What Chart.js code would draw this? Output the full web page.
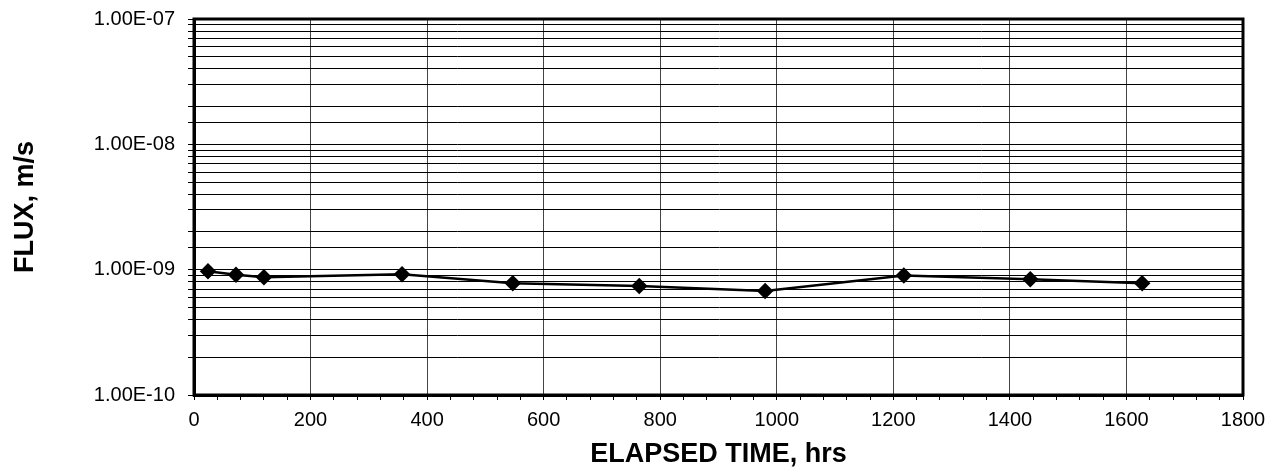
<!DOCTYPE html>
<html>
<head>
<meta charset="utf-8">
<script src="https://cdn.jsdelivr.net/npm/chart.js@4/dist/chart.umd.min.js"></script>
<style>
  html, body { margin: 0; padding: 0; background: #fff; }
  #wrap { width: 1271px; height: 476px; position: relative; }
</style>
</head>
<body>
<div id="wrap"><canvas id="fluxChart"></canvas></div>
<script>
// elapsed time (hrs) and measured flux (m/s)
const elapsedHours = [24, 72, 120, 357, 547, 764, 980, 1218, 1435, 1627];
const fluxValues = [9.7e-10, 9.1e-10, 8.7e-10, 9.2e-10, 7.8e-10, 7.4e-10, 6.75e-10, 9.0e-10, 8.4e-10, 7.8e-10];

const xMin = 0, xMax = 1800, xMajor = 200, xMinor = 40;
const yMin = 1e-10, yMax = 1e-7;

Chart.defaults.font.family = 'Arial, "Liberation Sans", Helvetica, sans-serif';
Chart.defaults.color = '#000';

// format like Excel scientific: 1.00E-09
function sci(v) {
  const [m, e] = v.toExponential(2).split('e');
  const n = parseInt(e, 10);
  const sign = n < 0 ? '-' : '+';
  return m + 'E' + sign + String(Math.abs(n)).padStart(2, '0');
}

function isDecade(v) {
  const l = Math.log10(v);
  return Math.abs(l - Math.round(l)) < 1e-6;
}

// frame round the plot area
const frame = {
  id: 'frame',
  afterDraw(chart) {
    const { ctx, chartArea: a } = chart;
    ctx.save();
    ctx.strokeStyle = '#000';
    ctx.lineWidth = 3;
    ctx.strokeRect(a.left, a.top, a.right - a.left, a.bottom - a.top);
    ctx.restore();
  }
};

const points = elapsedHours.map((h, i) => ({ x: h, y: fluxValues[i] }));

new Chart(document.getElementById('fluxChart'), {
  type: 'line',
  data: {
    datasets: [{
      data: points,
      borderColor: '#000',
      backgroundColor: '#000',
      borderWidth: 2.5,
      pointStyle: 'rectRot',
      pointRadius: 6.5,
      pointBackgroundColor: '#000',
      pointBorderColor: '#000',
      tension: 0
    }]
  },
  options: {
    responsive: true,
    maintainAspectRatio: false,
    animation: false,
    layout: { padding: { left: 0, top: 19, right: 28, bottom: 0 } },
    plugins: { legend: { display: false }, tooltip: { enabled: false } },
    scales: {
      x: {
        type: 'linear',
        min: xMin,
        max: xMax,
        afterFit: (s) => { s.height = 81; s.paddingLeft = 0; s.paddingRight = 0; },
        border: { color: '#000', width: 3 },
        grid: {
          color: (c) => (c.tick && c.tick.value % xMajor === 0) ? '#444' : 'rgba(0,0,0,0)',
          tickColor: '#000',
          tickLength: 5,
          lineWidth: 1
        },
        ticks: {
          stepSize: xMinor,
          maxTicksLimit: 100,
          autoSkip: false,
          maxRotation: 0,
          padding: 8,
          font: { size: 20 },
          callback: (v) => (v % xMajor === 0 ? String(v) : '')
        },
        title: {
          display: true,
          text: 'ELAPSED TIME, hrs',
          font: { size: 27, weight: 'bold' },
          padding: { top: 0, bottom: 5 }
        }
      },
      y: {
        type: 'logarithmic',
        min: yMin,
        max: yMax,
        afterFit: (s) => { s.width = 194; s.paddingTop = 0; s.paddingBottom = 0; },
        border: { color: '#000', width: 3 },
        grid: {
          color: '#000',
          tickColor: '#000',
          tickLength: 6,
          lineWidth: 1
        },
        ticks: {
          autoSkip: false,
          padding: 13,
          font: { size: 20 },
          callback: (v) => (isDecade(v) ? sci(v) : '')
        },
        title: {
          display: true,
          text: 'FLUX, m/s',
          font: { size: 27, weight: 'bold' },
          padding: { top: 9, bottom: 0 }
        }
      }
    }
  },
  plugins: [frame]
});
</script>
</body>
</html>
